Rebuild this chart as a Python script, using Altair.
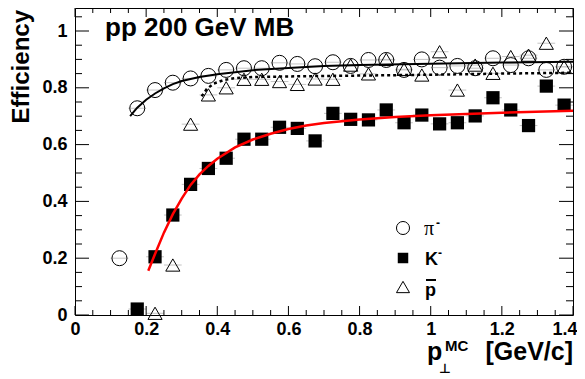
import altair as alt
import pandas as pd

# ---------------- data ----------------
pi_pt = [0.125, 0.175, 0.225, 0.275, 0.325, 0.375, 0.425, 0.475, 0.525, 0.575,
         0.625, 0.675, 0.725, 0.775, 0.825, 0.875, 0.925, 0.975, 1.025, 1.075,
         1.125, 1.175, 1.225, 1.275, 1.325, 1.375]
pi_eff = [0.200, 0.728, 0.792, 0.818, 0.833, 0.842, 0.863, 0.869, 0.869, 0.888,
          0.884, 0.876, 0.890, 0.877, 0.898, 0.898, 0.863, 0.900, 0.871, 0.877,
          0.869, 0.904, 0.880, 0.904, 0.863, 0.874]

k_pt = [0.175, 0.225, 0.275, 0.325, 0.375, 0.425, 0.475, 0.525, 0.575, 0.625,
        0.675, 0.725, 0.775, 0.825, 0.875, 0.925, 0.975, 1.025, 1.075, 1.125,
        1.175, 1.225, 1.275, 1.325, 1.375]
k_eff = [0.021, 0.205, 0.352, 0.460, 0.516, 0.552, 0.619, 0.619, 0.661, 0.657,
         0.613, 0.710, 0.689, 0.687, 0.722, 0.677, 0.704, 0.673, 0.677, 0.701,
         0.765, 0.722, 0.667, 0.806, 0.739]

pbar_pt = [0.225, 0.275, 0.325, 0.375, 0.425, 0.475, 0.525, 0.575, 0.625, 0.675,
           0.725, 0.775, 0.825, 0.875, 0.925, 0.975, 1.025, 1.075, 1.125, 1.175,
           1.225, 1.275, 1.325, 1.375]
pbar_eff = [0.006, 0.176, 0.672, 0.775, 0.800, 0.830, 0.830, 0.822, 0.812, 0.831,
            0.830, 0.880, 0.849, 0.900, 0.865, 0.845, 0.927, 0.792, 0.880, 0.851,
            0.910, 0.915, 0.957, 0.874]

# fit curves
pi_fit_pt = [0.155, 0.175, 0.20, 0.225, 0.25, 0.275, 0.30, 0.35, 0.40, 0.45, 0.50,
             0.60, 0.70, 0.80, 1.00, 1.20, 1.40]
pi_fit_eff = [0.700, 0.730, 0.758, 0.780, 0.798, 0.813, 0.824, 0.838, 0.848, 0.855,
              0.862, 0.870, 0.877, 0.880, 0.885, 0.889, 0.892]

pbar_fit_pt = [0.356, 0.37, 0.39, 0.42, 0.45, 0.50, 0.60, 0.80, 1.00, 1.20, 1.40]
pbar_fit_eff = [0.770, 0.795, 0.815, 0.828, 0.834, 0.838, 0.840, 0.843, 0.846, 0.850, 0.853]

k_fit_pt = [0.206, 0.225, 0.25, 0.275, 0.30, 0.325, 0.35, 0.375, 0.40, 0.45, 0.50,
            0.55, 0.60, 0.65, 0.70, 0.80, 0.90, 1.00, 1.20, 1.40]
k_fit_eff = [0.156, 0.215, 0.290, 0.355, 0.410, 0.458, 0.495, 0.525, 0.550, 0.590,
             0.618, 0.638, 0.655, 0.667, 0.676, 0.688, 0.697, 0.703, 0.712, 0.719]

x_major = [0, 0.2, 0.4, 0.6, 0.8, 1.0, 1.2, 1.4]
y_major = [0, 0.2, 0.4, 0.6, 0.8, 1.0]
x_minor = [round(0.05 * i, 2) for i in range(29) if i % 4 != 0]
y_minor = [round(0.05 * i, 2) for i in range(22) if i % 4 != 0]

# ---------------- chart ----------------
FONT = "Liberation Sans"
W, H = 498, 307
xs = alt.Scale(domain=[0, 1.4], nice=False, zero=False)
ys = alt.Scale(domain=[0, 1.081], nice=False, zero=False)

df_pi = pd.DataFrame({"pt": pi_pt, "eff": pi_eff})
df_k = pd.DataFrame({"pt": k_pt, "eff": k_eff})
df_pb = pd.DataFrame({"pt": pbar_pt, "eff": pbar_eff})
df_all = pd.concat([df_pi, df_k, df_pb], ignore_index=True)
dummy = pd.DataFrame({"d": [0]})

x_axis = alt.Axis(values=x_major, format="~g", labelFont=FONT, labelFontWeight="bold",
                  labelFontSize=18, labelColor="black", ticks=False, tickSize=0,
                  domain=False, grid=False, title=None, labelPadding=5,
                  labelFlush=False, labelOverlap=False,
                  labelAlign={"condition": {"test": "datum.value >= 1.39", "value": "right"},
                              "value": "center"},
                  labelOffset={"condition": {"test": "datum.value >= 1.39", "value": 4},
                               "value": 0})
y_axis = alt.Axis(values=y_major, format="~g", labelFont=FONT, labelFontWeight="bold",
                  labelFontSize=18, labelColor="black", ticks=False, tickSize=0,
                  domain=False, grid=False, title=None, labelPadding=8,
                  labelFlush=False, labelOverlap=False)


def X(field):
    return alt.X(field, scale=xs, axis=x_axis)


def Y(field):
    return alt.Y(field, scale=ys, axis=y_axis)


errbars = alt.Chart(df_all).transform_calculate(
    lo="datum.pt - 0.025", hi="datum.pt + 0.025"
).mark_rule(color="#c4c4c4", strokeWidth=1).encode(
    x=X("lo:Q"), x2="hi:Q", y=Y("eff:Q"))

pts_pi = alt.Chart(df_pi).mark_point(shape="circle", size=225, filled=False, color="black",
                                     strokeWidth=1, opacity=1).encode(
    x=X("pt:Q"), y=Y("eff:Q"))
pts_k = alt.Chart(df_k).mark_point(shape="square", size=175, filled=True, color="black",
                                   opacity=1).encode(
    x=X("pt:Q"), y=Y("eff:Q"))
pts_pb = alt.Chart(df_pb).mark_point(shape="triangle-up", size=200, filled=False, color="black",
                                     strokeWidth=1, opacity=1).encode(
    x=X("pt:Q"), y=Y("eff:Q"))


def curve(pt, eff, color, width, dash=None):
    kw = dict(color=color, strokeWidth=width)
    if dash:
        kw["strokeDash"] = dash
    return alt.Chart(pd.DataFrame({"pt": pt, "eff": eff})).mark_line(**kw).encode(
        x=X("pt:Q"), y=Y("eff:Q"))


fit_pi = curve(pi_fit_pt, pi_fit_eff, "black", 2)
fit_pb = curve(pbar_fit_pt, pbar_fit_eff, "black", 2.5, [3, 3])
fit_k = curve(k_fit_pt, k_fit_eff, "#ff0000", 2.5)


def yticks(vals, x0, x1):
    return alt.Chart(pd.DataFrame({"v": vals})).mark_rule(color="black", strokeWidth=1).encode(
        y=Y("v:Q"), x=alt.value(x0), x2=alt.value(x1))


def xticks(vals, y0, y1):
    return alt.Chart(pd.DataFrame({"v": vals})).mark_rule(color="black", strokeWidth=1).encode(
        x=X("v:Q"), y=alt.value(y0), y2=alt.value(y1))


ticks = [
    yticks(y_major, 0, 14), yticks(y_minor, 0, 7),
    yticks(y_major, W - 14, W), yticks(y_minor, W - 7, W),
    xticks(x_major, H - 9, H), xticks(x_minor, H - 5, H),
    xticks(x_major, 0, 9), xticks(x_minor, 0, 5),
]


def txt(s, x, y, size, weight="bold", font=FONT, align="left", baseline="alphabetic", angle=0):
    mk = dict(text=s, font=font, fontSize=size, fontWeight=weight, align=align,
              baseline=baseline, color="black")
    if angle:
        mk["angle"] = angle
    return alt.Chart(dummy).mark_text(**mk).encode(x=alt.value(x), y=alt.value(y))


def marker(shape, x, y, size, filled):
    return alt.Chart(dummy).mark_point(shape=shape, size=size, filled=filled, color="black",
                                       strokeWidth=1, opacity=1).encode(
        x=alt.value(x), y=alt.value(y))


texts = [
    txt("pp 200 GeV MB", 30, 28, 26),
    txt("Efficiency", -46, 2, 24, align="right", angle=270),
    txt("[GeV/c]", 498, 352, 25, align="right"),
    txt("p", 352, 352, 25),
    txt("MC", 370, 343, 15),
    txt("\u22a5", 364, 365, 13, weight="bold", font="DejaVu Sans"),
    # legend
    marker("circle", 328, 220, 170, False),
    marker("square", 328, 250, 110, True),
    marker("triangle-up", 328, 279, 170, False),
    txt("\u03c0", 349, 227, 20, weight="normal", font="Liberation Serif"),
    txt("-", 361, 219, 12),
    txt("K", 350, 257, 18),
    txt("-", 363, 249, 12),
    txt("p", 350, 288, 18),
    alt.Chart(dummy).mark_rule(color="black", strokeWidth=2).encode(
        x=alt.value(351), x2=alt.value(361), y=alt.value(272)),
]

chart = alt.layer(
    errbars, pts_pi, pts_k, pts_pb, fit_pi, fit_pb, fit_k, *ticks, *texts
).properties(
    width=W, height=H,
    padding={"left": 67, "top": 0, "right": 4, "bottom": 64},
    autosize=alt.AutoSizeParams(type="none"),
    background="white",
).configure_view(stroke="black", strokeWidth=1)

chart.save("out.html", embed_options={"renderer": "svg", "actions": False})
